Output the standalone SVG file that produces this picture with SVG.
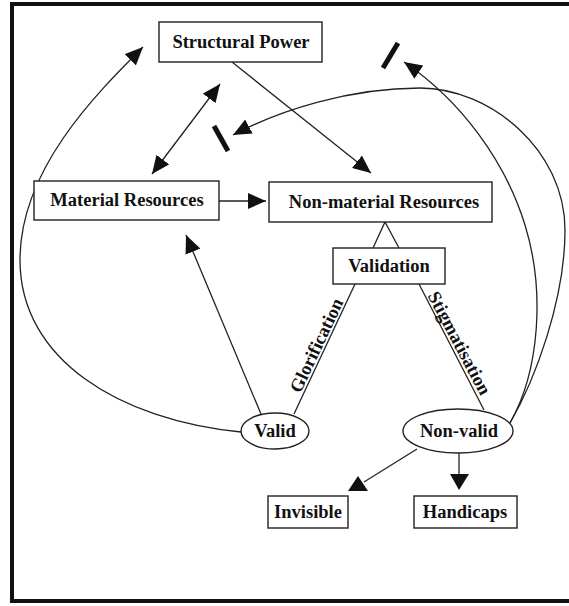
<svg xmlns="http://www.w3.org/2000/svg" width="569" height="606" viewBox="0 0 569 606">
<defs>
<style>
.box{fill:#fff;stroke:#222;stroke-width:1.4}
.lbl{font-family:"Liberation Serif","Times New Roman",serif;font-weight:bold;font-size:18.5px;fill:#111;text-anchor:middle;dominant-baseline:central}
.rot{font-family:"Liberation Serif","Times New Roman",serif;font-weight:bold;font-size:18.5px;fill:#111;text-anchor:middle}
.ln{fill:none;stroke:#222;stroke-width:1.3}
.bar{stroke:#111;stroke-width:5;stroke-linecap:butt}
.head{fill:#111;stroke:none}
</style>
<marker id="ah" viewBox="0 0 18 16" refX="18" refY="8" markerWidth="18" markerHeight="16" orient="auto-start-reverse" markerUnits="userSpaceOnUse">
<path d="M0,0 L18,8 L0,16 Z" fill="#111"/>
</marker>
</defs>
<rect x="0" y="0" width="569" height="606" fill="#fff"/>
<rect x="12" y="4" width="580" height="597" fill="none" stroke="#111" stroke-width="4"/>

<g id="connectors">
<line class="ln" x1="220" y1="84" x2="152" y2="174" marker-end="url(#ah)" marker-start="url(#ah)"/>
<line class="ln" x1="232" y1="62" x2="371" y2="173" marker-end="url(#ah)"/>
<line class="ln" x1="219" y1="201" x2="266" y2="201" marker-end="url(#ah)"/>
<polyline class="ln" points="373,248 385,222 399,248"/>
<line class="ln" x1="355" y1="284" x2="294" y2="414"/>
<line class="ln" x1="419" y1="284" x2="484" y2="410"/>
<line class="ln" x1="261" y1="414" x2="186" y2="235" marker-end="url(#ah)"/>
<path class="ln" d="M241,432 C120,420 20,360 20,260 C20,170 95,95 143,47" marker-end="url(#ah)"/>
<path class="ln" d="M510,423 C540,370 545,290 525,225 C505,160 460,100 404,62" marker-end="url(#ah)"/>
<path class="ln" d="M510,423 C535,380 565,300 565,230 C565,150 490,88 420,88 C350,88 280,110 233,135" marker-end="url(#ah)"/>
<line class="ln" x1="417" y1="449" x2="364" y2="482"/>
<polygon class="head" points="358,476 348,491 368,491"/>
<line class="ln" x1="459" y1="453" x2="459" y2="475"/>
<polygon class="head" points="450,474 469,474 459,490"/>
<line class="bar" x1="383" y1="68" x2="398" y2="43"/>
<line class="bar" x1="214" y1="126" x2="228" y2="151"/>
<text class="rot" transform="translate(322,348) rotate(-64.7)">Glorification</text>
<text class="rot" transform="translate(454,346) rotate(62.1)">Stigmatisation</text>
</g>

<g id="structural-power">
<rect class="box" x="159" y="22" width="163" height="40"/>
<text class="lbl" x="241" y="42">Structural Power</text>
</g>
<g id="material-resources">
<rect class="box" x="34" y="181" width="185" height="39"/>
<text class="lbl" x="127" y="200">Material Resources</text>
</g>
<g id="non-material-resources">
<rect class="box" x="269" y="182" width="223" height="40"/>
<text class="lbl" x="384" y="202">Non-material Resources</text>
</g>
<g id="validation">
<rect class="box" x="333" y="248" width="112" height="36"/>
<text class="lbl" x="389" y="266">Validation</text>
</g>
<g id="valid">
<ellipse class="box" cx="275" cy="431" rx="34" ry="18"/>
<text class="lbl" x="275" y="431">Valid</text>
</g>
<g id="non-valid">
<ellipse class="box" cx="458" cy="431" rx="55" ry="22"/>
<text class="lbl" x="459" y="431">Non-valid</text>
</g>
<g id="invisible">
<rect class="box" x="268" y="496" width="80" height="32"/>
<text class="lbl" x="308" y="512">Invisible</text>
</g>
<g id="handicaps">
<rect class="box" x="414" y="496" width="103" height="32"/>
<text class="lbl" x="465" y="512">Handicaps</text>
</g>
</svg>
